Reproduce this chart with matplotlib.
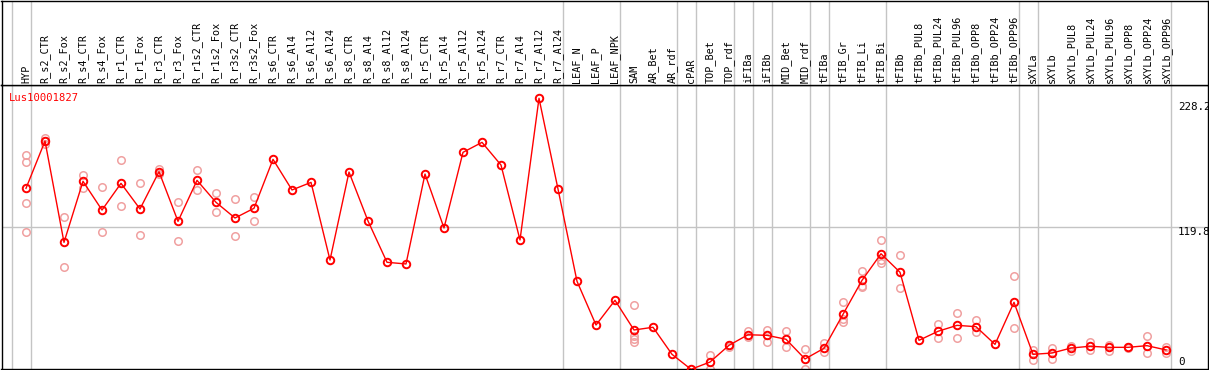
import matplotlib
matplotlib.use("Agg")
import matplotlib.pyplot as plt
from matplotlib.transforms import blended_transform_factory

# --- data -----------------------------------------------------------------
gene = "Lus10001827"

categories = [
    "HYP", "R_s2_CTR", "R_s2_Fox", "R_s4_CTR", "R_s4_Fox", "R_r1_CTR", "R_r1_Fox",
    "R_r3_CTR", "R_r3_Fox", "R_r1s2_CTR", "R_r1s2_Fox", "R_r3s2_CTR", "R_r3s2_Fox",
    "R_s6_CTR", "R_s6_Al4", "R_s6_Al12", "R_s6_Al24", "R_s8_CTR", "R_s8_Al4",
    "R_s8_Al12", "R_s8_Al24", "R_r5_CTR", "R_r5_Al4", "R_r5_Al12", "R_r5_Al24",
    "R_r7_CTR", "R_r7_Al4", "R_r7_Al12", "R_r7_Al24", "LEAF_N", "LEAF_P", "LEAF_NPK",
    "SAM", "AR_Bet", "AR_rdf", "cPAR", "TOP_Bet", "TOP_rdf", "iFIBa", "iFIBb",
    "MID_Bet", "MID_rdf", "tFIBa", "tFIB_Gr", "tFIB_Li", "tFIB_Bi", "tFIBb",
    "tFIBb_PUL8", "tFIBb_PUL24", "tFIBb_PUL96", "tFIBb_OPP8", "tFIBb_OPP24",
    "tFIBb_OPP96", "sXYLa", "sXYLb", "sXYLb_PUL8", "sXYLb_PUL24", "sXYLb_PUL96",
    "sXYLb_OPP8", "sXYLb_OPP24", "sXYLb_OPP96",
]

means = [
    152.4, 192.2, 106.9, 158.3, 134.1, 156.6, 135.0, 166.4, 124.6, 159.1, 140.6,
    127.4, 135.6, 176.8, 151.0, 157.4, 92.0, 166.1, 124.9, 90.1, 88.7, 164.4,
    119.0, 182.7, 191.1, 172.0, 108.9, 228.2, 151.8, 74.1, 37.3, 58.1,
    33.1, 35.4, 12.6, 0.0, 6.1, 20.2, 29.1, 28.6, 25.3, 8.7, 17.7, 46.3, 74.9,
    97.3, 81.7, 24.4, 32.0, 37.0, 35.9, 21.0, 56.4, 12.6, 13.7, 17.9, 19.4,
    18.5, 18.5, 19.9, 16.3,
]

# individual replicates (empty where only the mean is shown)
replicates = [
    [180.4, 174.3, 139.8, 115.3], [194.5, 192.2, 189.9], [128.0, 86.1],
    [163.6, 152.4], [153.2, 115.3], [176.0, 137.2], [156.6, 112.8],
    [168.4, 164.4], [140.6, 107.8], [167.6, 150.7], [148.2, 132.2],
    [143.1, 112.0], [145.3, 124.6],
    [], [], [], [], [], [], [], [], [], [], [], [], [], [], [], [],
    [], [], [],
    [54.1, 28.0, 25.5, 22.7], [], [], [], [11.8, 0.0], [20.7, 19.0],
    [32.0, 26.9], [33.1, 23.2], [32.2, 19.0], [16.8, 0.0], [22.4, 14.6],
    [56.4, 42.5, 40.1], [82.5, 70.1, 69.0], [108.6, 92.0, 89.8], [96.2, 68.2],
    [], [38.1, 26.4], [47.1, 26.1], [41.5, 31.2], [], [78.3, 34.5],
    [16.3, 7.8], [17.9, 8.4], [19.9, 15.7], [23.2, 16.3], [20.7, 15.7],
    [18.9, 18.1], [28.0, 13.5], [18.5, 14.0],
]

# group separators sit just right of these category indices
separators = [-1, 0, 28, 31, 34, 35, 37, 38, 39, 41, 42, 45, 52, 53, 60]
ref_value = 119.8
axis_labels = ["228.2", "119.8", "0"]

# --- figure ----------------------------------------------------------------
W, H = 1209, 370
fig = plt.figure(figsize=(W / 100, H / 100), dpi=100)
mono = "DejaVu Sans Mono"
red = "#ff0000"
pink = "#f0a0a0"
grey = "#c4c4c4"

x_left, x_right = -1.2895, 62.184
ax = fig.add_axes([1.5 / W, 1 / H, 1206 / W, 284 / H])
head = fig.add_axes([1.5 / W, 285 / H, 1206 / W, 84.5 / H])

for a in (ax, head):
    a.set_xlim(x_left, x_right)
    a.set_xticks([])
    a.set_yticks([])
    for s in a.spines.values():
        s.set_linewidth(1.0)
        s.set_color("black")
    for sep in separators:
        a.axvline(sep + 0.25, color=grey, lw=1.0, zorder=0)

ax.set_ylim(0.25, 239.4)
ax.axhline(ref_value, color=grey, lw=1.0, zorder=0)

xs = list(range(len(categories)))
rx, ry = [], []
for i, reps in enumerate(replicates):
    rx += [i] * len(reps)
    ry += reps
ax.plot(rx, ry, ls="none", marker="o", ms=5.4, mfc="none", mec=pink, mew=1.1,
        zorder=2)
ax.plot(xs, means, color=red, lw=1.0, marker="o", ms=5.4, mfc="none",
        mec=red, mew=1.4, zorder=3)

# header with rotated category names
ht = blended_transform_factory(head.transData, head.transAxes)
for i, name in enumerate(categories):
    head.text(i, 0.02, name, rotation=90, ha="center", va="bottom",
              family=mono, fontsize=7.3, transform=ht)

ax.text(0.0065, 0.972, gene, color=red, family=mono, fontsize=7.6,
        ha="left", va="top", transform=ax.transAxes)

rt = blended_transform_factory(ax.transAxes, ax.transData)
for lab, yv in zip(axis_labels, [221.1, 115.3, 6.4]):
    ax.text(0.9755, yv, lab, family=mono, fontsize=7.8, ha="left",
            va="center", transform=rt)

fig.savefig("out.png", dpi=100)
